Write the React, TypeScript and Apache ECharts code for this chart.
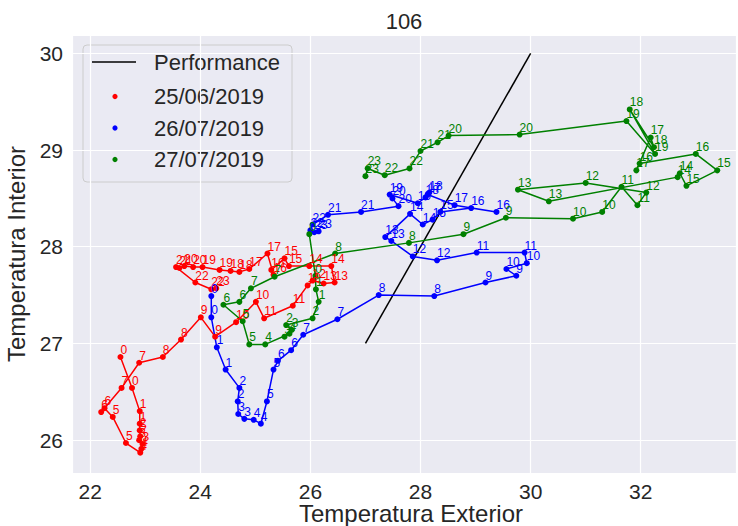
import React, { useEffect, useRef } from "react";
import * as echarts from "echarts";

const titleText = "106";
const xAxisName = "Temperatura Exterior";
const yAxisName = "Temperatura Interior";
const seriesNames = ["Performance", "25/06/2019", "26/07/2019", "27/07/2019"];
const seriesColors = ["#000000", "#FF0000", "#0000FF", "#008000"];

const perfX = [27, 30];
const perfY = [27, 30];

const redX = [22.55, 22.76, 22.90, 22.90, 22.90, 22.91, 22.89, 22.95, 22.93, 22.91, 22.65, 22.41, 22.26, 22.20, 22.57, 22.89, 23.32, 23.65, 24.01, 24.27, 24.65, 25.01, 25.16, 25.68, 25.95, 26.04, 26.24, 26.44, 26.38, 25.98, 25.61, 25.53, 25.29, 25.33, 25.22, 24.89, 24.71, 24.55, 24.35, 24.04, 23.87, 23.71, 23.62, 23.56, 23.91, 24.20, 24.29];
const redY = [26.86, 26.54, 26.30, 26.17, 26.10, 26.04, 26.00, 25.96, 25.91, 25.87, 25.97, 26.24, 26.33, 26.29, 26.54, 26.80, 26.86, 27.04, 27.27, 27.07, 27.22, 27.43, 27.26, 27.39, 27.60, 27.65, 27.62, 27.63, 27.80, 27.80, 27.80, 27.88, 27.76, 27.71, 27.93, 27.77, 27.74, 27.75, 27.76, 27.79, 27.79, 27.80, 27.78, 27.79, 27.63, 27.56, 27.57];

const blueX = [24.20, 24.20, 24.30, 24.46, 24.71, 24.68, 24.69, 24.80, 24.97, 25.10, 25.21, 25.33, 25.41, 25.65, 25.87, 26.49, 27.24, 28.25, 29.18, 29.74, 29.56, 29.93, 29.89, 29.02, 28.30, 27.86, 27.47, 27.36, 27.81, 28.04, 28.22, 28.36, 28.92, 29.38, 28.62, 28.13, 28.16, 28.09, 27.95, 27.44, 27.49, 27.60, 26.92, 26.32, 26.04, 26.00, 26.07, 26.15];
const blueY = [27.49, 27.27, 26.96, 26.73, 26.54, 26.40, 26.27, 26.22, 26.21, 26.17, 26.40, 26.73, 26.82, 26.93, 27.09, 27.25, 27.50, 27.49, 27.63, 27.70, 27.77, 27.83, 27.94, 27.94, 27.86, 27.90, 28.06, 28.10, 28.34, 28.23, 28.28, 28.36, 28.40, 28.36, 28.43, 28.54, 28.56, 28.51, 28.45, 28.54, 28.50, 28.42, 28.36, 28.33, 28.23, 28.17, 28.15, 28.16];

const greenX = [25.98, 26.09, 26.10, 26.15, 26.04, 25.56, 25.66, 25.53, 25.62, 25.18, 24.89, 24.77, 24.42, 24.71, 24.92, 25.35, 26.45, 27.79, 28.78, 29.55, 30.77, 31.30, 31.65, 31.94, 32.10, 31.00, 29.77, 30.33, 32.67, 32.71, 32.83, 33.39, 33.00, 31.98, 31.92, 32.18, 32.24, 31.80, 32.26, 31.74, 29.80, 28.51, 28.31, 28.00, 27.80, 27.35, 27.04, 27.00];
const greenY = [28.13, 27.70, 27.56, 27.43, 27.26, 27.19, 27.14, 27.07, 27.10, 26.99, 26.99, 27.23, 27.40, 27.43, 27.57, 27.69, 27.93, 28.04, 28.13, 28.30, 28.29, 28.36, 28.62, 28.43, 28.56, 28.66, 28.59, 28.47, 28.72, 28.76, 28.63, 28.79, 28.96, 28.86, 28.79, 29.13, 29.03, 29.42, 28.96, 29.30, 29.16, 29.15, 29.08, 28.99, 28.81, 28.74, 28.81, 28.73];

// readings every half hour, labelled with the hour of day
const readingsPerHour = 2;

const FONT = "'Liberation Sans', Arial, sans-serif";
const TEXT = "#262626";

function zip(xs: number[], ys: number[]) {
  return xs.map((x, i) => [x, ys[i]]);
}

function daySeries(name: string, color: string, xs: number[], ys: number[]) {
  return {
    name,
    type: "line",
    data: zip(xs, ys),
    symbol: "circle",
    symbolSize: 6,
    showSymbol: true,
    showAllSymbol: true,
    lineStyle: { color, width: 1.5 },
    itemStyle: { color },
    label: {
      show: true,
      position: [3, -10],
      color,
      fontSize: 12,
      fontFamily: FONT,
      formatter: (p: any) => String(Math.floor(p.dataIndex / readingsPerHour)),
    },
    emphasis: { disabled: true },
    z: 3,
  };
}

export default function App() {
  const ref = useRef<HTMLDivElement>(null);
  useEffect(() => {
    if (!ref.current) return;
    const chart = echarts.init(ref.current, undefined, { renderer: "svg" });
    const legendX = 83;
    const legendY = 45;
    const rowYs = [62, 96.5, 128, 159.5];
    const legendChildren: any[] = [
      {
        type: "rect",
        shape: { x: legendX, y: legendY, width: 209, height: 137, r: 4 },
        style: { fill: "rgba(234,234,242,0.8)", stroke: "#CCCCCC", lineWidth: 1 },
      },
      {
        type: "line",
        shape: { x1: 92, y1: rowYs[0], x2: 136, y2: rowYs[0] },
        style: { stroke: seriesColors[0], lineWidth: 1.5 },
      },
    ];
    for (let i = 1; i < 4; i++) {
      legendChildren.push({
        type: "circle",
        shape: { cx: 115, cy: rowYs[i], r: 2.6 },
        style: { fill: seriesColors[i] },
      });
    }
    for (let i = 0; i < 4; i++) {
      legendChildren.push({
        type: "text",
        x: 154,
        y: rowYs[i],
        style: {
          text: seriesNames[i],
          fill: TEXT,
          fontSize: 22,
          fontFamily: FONT,
          verticalAlign: "middle",
          align: "left",
        },
      });
    }

    chart.setOption({
      animation: false,
      backgroundColor: "#FFFFFF",
      grid: {
        left: 72,
        right: 2,
        top: 35,
        bottom: 53,
        containLabel: false,
        outerBoundsMode: "none",
        show: true,
        backgroundColor: "#EAEAF2",
        borderWidth: 0,
      },
      xAxis: {
        type: "value",
        min: 21.67,
        max: 33.73,
        splitNumber: 6,
        axisLine: { show: false },
        axisTick: { show: false },
        axisLabel: { fontSize: 21, color: TEXT, fontFamily: FONT, margin: 8, showMinLabel: false, showMaxLabel: false },
        splitLine: { show: true, lineStyle: { color: "#FFFFFF", width: 1.2 } },
      },
      yAxis: {
        type: "value",
        min: 25.66,
        max: 30.19,
        splitNumber: 5,
        name: yAxisName,
        nameLocation: "middle",
        nameGap: 40,
        nameTextStyle: { fontSize: 24, color: TEXT, fontFamily: FONT },
        axisLine: { show: false },
        axisTick: { show: false },
        axisLabel: { fontSize: 21, color: TEXT, fontFamily: FONT, margin: 9, showMinLabel: false, showMaxLabel: false },
        splitLine: { show: true, lineStyle: { color: "#FFFFFF", width: 1.2 } },
      },
      series: [
        {
          name: seriesNames[0],
          type: "line",
          data: zip(perfX, perfY),
          showSymbol: false,
          lineStyle: { color: seriesColors[0], width: 1.5 },
          emphasis: { disabled: true },
          z: 2,
        },
        daySeries(seriesNames[1], seriesColors[1], redX, redY),
        daySeries(seriesNames[2], seriesColors[2], blueX, blueY),
        daySeries(seriesNames[3], seriesColors[3], greenX, greenY),
      ],
      graphic: [
        {
          type: "text",
          x: 404,
          y: 21,
          style: { text: titleText, fill: TEXT, fontSize: 22, fontFamily: FONT, align: "center", verticalAlign: "middle" },
        },
        {
          type: "text",
          x: 411,
          y: 513,
          style: { text: xAxisName, fill: TEXT, fontSize: 24, fontFamily: FONT, align: "center", verticalAlign: "middle" },
        },
        { type: "group", children: legendChildren, z: 100 },
      ],
    });
    return () => chart.dispose();
  }, []);
  return <div ref={ref} style={{ position: "fixed", left: 0, top: 0, width: 738, height: 526 }} />;
}
